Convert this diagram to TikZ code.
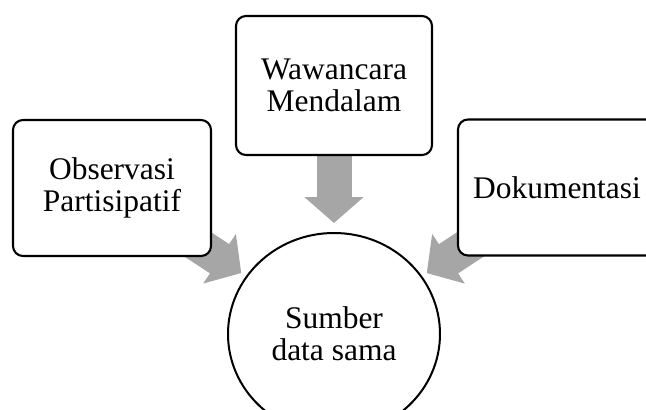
\documentclass[tikz,border=0pt]{standalone}
\usepackage{fontspec}
\setmainfont{Liberation Serif}
\usetikzlibrary{shapes.geometric, arrows.meta, calc, backgrounds}
\definecolor{panahabu}{RGB}{166,166,166}
\tikzset{
    kotak/.style={
        draw, line width=1.6pt, rounded corners=7.5pt, fill=white,
        align=center, minimum width=148.5pt, minimum height=102pt,
        font=\fontsize{23.6}{23.7}\selectfont
    },
    lingkaran/.style={
        draw, ellipse, line width=1.5pt, fill=white, inner sep=0pt,
        align=center, minimum width=159pt, minimum height=151.5pt,
        font=\fontsize{23.6}{23.7}\selectfont
    },
    panah/.style={
        panahabu, line width=26.25pt,
        -{Triangle[width=43.5pt, length=19.5pt]}
    },
}

\begin{document}
\begin{tikzpicture}[x=0.75pt, y=-0.75pt]
\useasboundingbox (0,0) rectangle (646,410);

% tiga sumber dan lingkaran di tengah bawah
\node[kotak] (observasi) at (112,188) {Observasi\\Partisipatif};
\node[kotak, minimum width=147pt, minimum height=104.25pt] (wawancara) at (334,85.5) {Wawancara\\Mendalam};
\node[kotak] (dokumentasi) at (557,187.5) {Dokumentasi};
\node[lingkaran] (sumber) at (334,334) {Sumber\\data sama};

% panah abu-abu di belakang kotak
\begin{pgfonlayer}{background}
\draw[panah] (observasi.center) -- ($(sumber.center)!83.25pt!(observasi.center)$);
\draw[panah] (wawancara.center) -- ($(sumber.center)!83.25pt!(wawancara.center)$);
\draw[panah] (dokumentasi.center) -- ($(sumber.center)!83.25pt!(dokumentasi.center)$);
\end{pgfonlayer}
\end{tikzpicture}
\end{document}
